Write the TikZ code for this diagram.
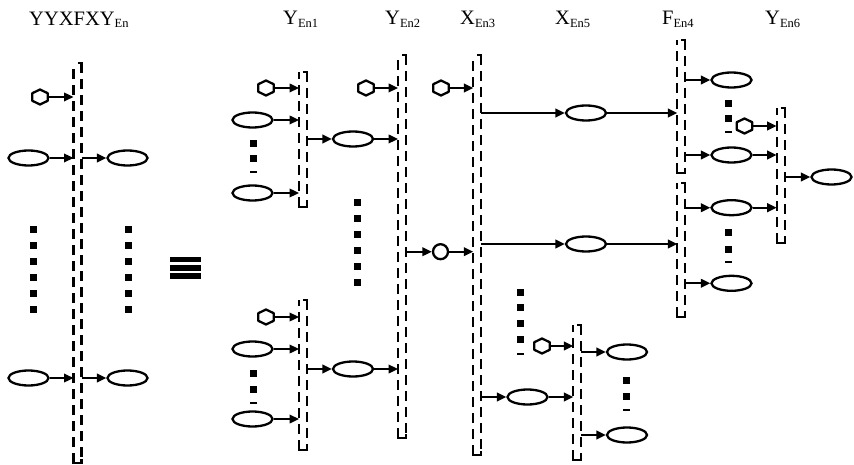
\documentclass[tikz,border=0pt]{standalone}
\usepackage{fontspec}
\setmainfont{Liberation Serif}
\usetikzlibrary{arrows.meta,shapes.geometric,calc}

% element label: large letters followed by a lowered small index
\newcommand\elabel[2]{\fontsize{20.5}{22}\selectfont #1\raisebox{-2.5pt}{\fontsize{12.5}{14}\selectfont #2}}

\tikzset{
  wire/.style={line width=2.3pt},
  dashside/.style={line width=2.3pt, dash pattern=on 10pt off 6pt},
  conn/.style={line width=2.3pt, -{Triangle[length=9.5pt,width=8.5pt]}},
  ell/.style={ellipse, draw, line width=2.3pt, minimum width=40pt, minimum height=15pt, inner sep=0pt},
  hexbox/.style={rectangle, minimum width=15.5pt, minimum height=15pt, inner sep=0pt, outer sep=0pt},
  ring/.style={circle, draw, line width=2.3pt, minimum size=15pt, inner sep=0pt},
  barbox/.style={rectangle, minimum width=8pt, inner sep=0pt, outer sep=0pt},
  title/.style={anchor=base west, inner sep=0pt},
}

% a bus bar: name, inner x, top y, bottom y
\newcommand\mkbar[4]{%
  \node[barbox, minimum height={#4-#3}] (#1) at ({#2+4},{(#3+#4)/2}) {};
  \draw[dashside] (#1.south west) -- (#1.north west);
  \draw[dashside] (#1.north east) -- (#1.south east);
  \draw[wire] ($(#1.south west)+(0,-4)$) -- (#1.south west) -- (#1.south east) -- ++(0,-4);
  \draw[wire] ($(#1.north east)+(-4,0)$) -- (#1.north east) -- ++(0,4);
}

% a small hexagon drawn on a named box
\newcommand\mkhex[3]{%
  \node[hexbox] (#1) at (#2,#3) {};
  \draw[wire, line join=round] (#1.north) -- ($(#1.north east)!.25!(#1.south east)$)
    -- ($(#1.north east)!.75!(#1.south east)$) -- (#1.south)
    -- ($(#1.north west)!.75!(#1.south west)$) -- ($(#1.north west)!.25!(#1.south west)$) -- cycle;
}

% a column of square dots: x, list of y
\newcommand\dotcol[2]{%
  \foreach \yy in {#2} \fill (#1-3.5,\yy-3.5) rectangle ++(7,7);
}
% a thin stub closing a dot column
\newcommand\dotstub[2]{\fill (#1-3.5,#2-1.1) rectangle ++(7,2.2);}

\begin{document}
\begin{tikzpicture}[x=1pt,y=-1pt]
\useasboundingbox (0,0) rectangle (854,465);

% titles
\node[title] (t0) at (29,25.5) {\elabel{YYXFXY}{En}};
\node[title] (t1) at (283,25) {\elabel{Y}{En1}};
\node[title] (t2) at (385,25) {\elabel{Y}{En2}};
\node[title] (t3) at (460,25) {\elabel{X}{En3}};
\node[title] (t5) at (555,25) {\elabel{X}{En5}};
\node[title] (t4) at (662,25) {\elabel{F}{En4}};
\node[title] (t6) at (765,25) {\elabel{Y}{En6}};

% ---- compound element on the left ----
\mkbar{B0}{73.5}{63}{463}
\mkhex{h0}{40}{97}
\node[ell] (e0a) at (28.5,158) {};
\node[ell] (e0ar) at (127.5,158) {};
\node[ell] (e0b) at (28.5,378) {};
\node[ell] (e0br) at (127.5,378) {};
\draw[conn] (h0.east) -- (h0.east -| B0.west);
\draw[conn] (e0a.east) -- (e0a.east -| B0.west);
\draw[conn] (e0b.east) -- (e0b.east -| B0.west);
\draw[conn] (B0.east |- e0ar.west) -- (e0ar.west);
\draw[conn] (B0.east |- e0br.west) -- (e0br.west);
\dotcol{33}{229.5,245.7,261.7,277.7,293.3,309.3}
\dotcol{128}{229.5,245.7,261.7,277.7,293.3,309.3}

% equivalence sign
\fill (169.5,256.7) rectangle (201.3,262.3);
\fill (169.5,265.0) rectangle (201.3,270.7);
\fill (169.5,273.3) rectangle (201.3,279.3);

% ---- Y En1 (upper) ----
\mkbar{B1}{299}{72}{207}
\mkhex{h1}{266}{88}
\node[ell] (e1a) at (252.5,120) {};
\node[ell] (e1b) at (252.5,193) {};
\node[ell] (e1o) at (353,139) {};
\draw[conn] (h1.east) -- (h1.east -| B1.west);
\draw[conn] (e1a.east) -- (e1a.east -| B1.west);
\draw[conn] (e1b.east) -- (e1b.east -| B1.west);
\draw[conn] (B1.east |- e1o.west) -- (e1o.west);
\dotcol{253}{144,159}
\dotstub{253}{172}

% ---- Y En1 (lower) ----
\mkbar{B1b}{299}{300}{450}
\mkhex{h1b}{266}{317}
\node[ell] (e1c) at (252.5,349) {};
\node[ell] (e1d) at (252.5,419) {};
\node[ell] (e1bo) at (353,369) {};
\draw[conn] (h1b.east) -- (h1b.east -| B1b.west);
\draw[conn] (e1c.east) -- (e1c.east -| B1b.west);
\draw[conn] (e1d.east) -- (e1d.east -| B1b.west);
\draw[conn] (B1b.east |- e1bo.west) -- (e1bo.west);
\dotcol{253}{373,389}
\dotstub{253}{403}

% ---- Y En2 ----
\mkbar{B2}{398}{55}{438}
\mkhex{h2}{366}{88}
\draw[conn] (h2.east) -- (h2.east -| B2.west);
\draw[conn] (e1o.east) -- (e1o.east -| B2.west);
\draw[conn] (e1bo.east) -- (e1bo.east -| B2.west);
\dotcol{357.7}{203,219,235,250.7,266.7,282.7}
\node[ring] (c2) at (440.5,251.7) {};
\draw[conn] (B2.east |- c2.west) -- (c2.west);

% ---- X En3 ----
\mkbar{B3}{473.3}{55}{455}
\mkhex{h3}{441}{88}
\draw[conn] (h3.east) -- (h3.east -| B3.west);
\draw[conn] (c2.east) -- (c2.east -| B3.west);
\node[ell] (e3a) at (586,113) {};
\node[ell] (e3b) at (586,244) {};
\node[ell] (e3c) at (527.5,397) {};
\draw[conn] (B3.east |- e3a.west) -- (e3a.west);
\draw[conn] (B3.east |- e3b.west) -- (e3b.west);
\draw[conn] (B3.east |- e3c.west) -- (e3c.west);
\dotcol{520}{292.3,307.7,323.3,339.3}
\dotstub{520}{354.3}

% ---- X En5 ----
\mkbar{B5}{573.3}{325}{460}
\mkhex{h5}{542}{346}
\draw[conn] (h5.east) -- (h5.east -| B5.west);
\draw[conn] (e3c.east) -- (e3c.east -| B5.west);
\node[ell] (e5a) at (627,352) {};
\node[ell] (e5b) at (627,435) {};
\draw[conn] (B5.east |- e5a.west) -- (e5a.west);
\draw[conn] (B5.east |- e5b.west) -- (e5b.west);
\dotcol{626}{380,396.7}
\dotstub{626}{410}

% ---- F En4 ----
\mkbar{B4a}{677.3}{40}{173}
\mkbar{B4b}{677.3}{183}{317}
\draw[conn] (e3a.east) -- (e3a.east -| B4a.west);
\draw[conn] (e3b.east) -- (e3b.east -| B4b.west);
\node[ell] (e4a) at (731.5,80) {};
\node[ell] (e4b) at (731.5,155) {};
\node[ell] (e4c) at (731.5,207.7) {};
\node[ell] (e4d) at (731.5,283.3) {};
\draw[conn] (B4a.east |- e4a.west) -- (e4a.west);
\draw[conn] (B4a.east |- e4b.west) -- (e4b.west);
\draw[conn] (B4b.east |- e4c.west) -- (e4c.west);
\draw[conn] (B4b.east |- e4d.west) -- (e4d.west);
\dotcol{728}{104,119}
\dotstub{728}{132}
\dotcol{728}{232.7,249}
\dotstub{728}{262.3}

% ---- Y En6 ----
\mkbar{B6}{776.7}{108}{243}
\mkhex{h6}{744.5}{126}
\draw[conn] (h6.east) -- (h6.east -| B6.west);
\draw[conn] (e4b.east) -- (e4b.east -| B6.west);
\draw[conn] (e4c.east) -- (e4c.east -| B6.west);
\node[ell] (e6) at (831.5,177) {};
\draw[conn] (B6.east |- e6.west) -- (e6.west);

\end{tikzpicture}
\end{document}
